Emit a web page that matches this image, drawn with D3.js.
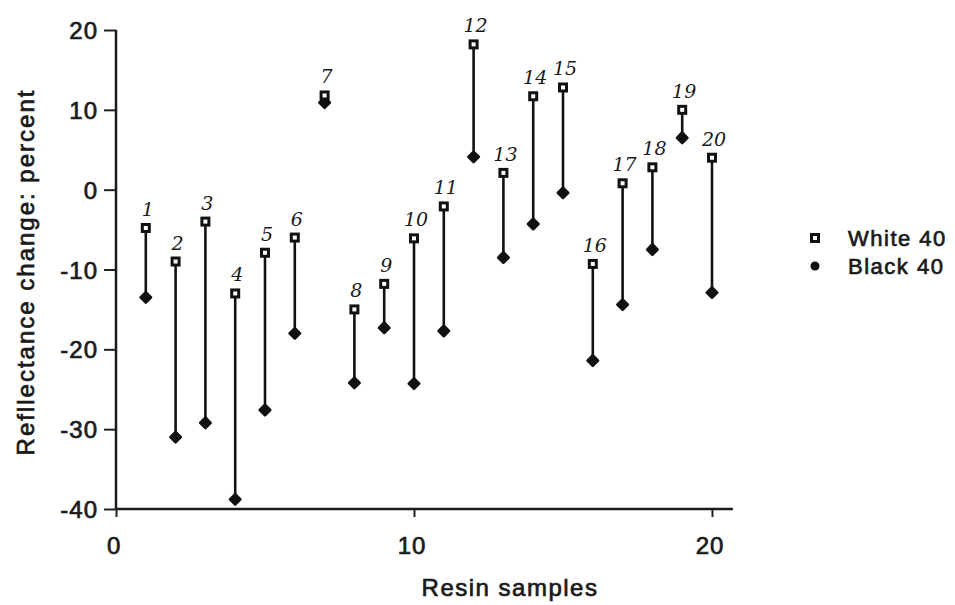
<!DOCTYPE html>
<html>
<head>
<meta charset="utf-8">
<script src="https://cdn.jsdelivr.net/npm/d3@7"></script>
<style>
  body { margin: 0; background: #fff; }
  svg text { font-family: "Liberation Sans", Arial, sans-serif; fill: #1a1a1a; }
</style>
</head>
<body>
<div id="chart"></div>
<script>
// Resin samples 1..20, reflectance change (percent)
const samples = d3.range(1, 21);
const white40 = [-4.8, -9.0, -4.0, -13.0, -7.9, -6.0, 11.8, -15.0, -11.8, -6.1,
                 -2.1, 18.2, 2.1, 11.7, 12.8, -9.3, 0.8, 2.8, 10.0, 4.0];
const black40 = [-13.5, -31.0, -29.2, -38.8, -27.6, -18.0, 10.9, -24.2, -17.3, -24.3,
                 -17.7, 4.1, -8.5, -4.3, -0.4, -21.4, -14.4, -7.5, 6.5, -12.9];
const xTicks = [0, 10, 20];
const yTicks = [-40, -30, -20, -10, 0, 10, 20];
const legendItems = [
    { key: 'white', label: 'White 40' },
    { key: 'black', label: 'Black 40' }
];

const width = 955, height = 605;
const svg = d3.select('#chart').append('svg')
    .attr('width', width)
    .attr('height', height);

const x = d3.scaleLinear().domain([0, 20]).range([116, 712]);
const y = d3.scaleLinear().domain([-40, 20]).range([509, 30]);

// plain hyphen for negatives, like the original
const fmt = d => String(d);

const heavyText = sel => sel
    .style('stroke', '#1a1a1a')
    .style('stroke-width', '0.7px');

const tickFont = g => g.selectAll('text')
    .style('font-size', '24px')
    .style('letter-spacing', '1px')
    .call(heavyText);

// y axis
const yAxis = svg.append('g')
    .attr('transform', `translate(${x(0)},0)`)
    .call(d3.axisLeft(y).tickValues(yTicks).tickFormat(fmt).tickSize(12).tickSizeOuter(0).tickPadding(6));
yAxis.select('.domain').remove();
yAxis.selectAll('.tick line').attr('stroke', '#222').attr('stroke-width', 2);
yAxis.call(tickFont);
yAxis.selectAll('text').attr('dy', '0.36em');

// x axis
const xAxis = svg.append('g')
    .attr('transform', `translate(0,${y(-40)})`)
    .call(d3.axisBottom(x).tickValues(xTicks).tickFormat(fmt).tickSize(8).tickSizeOuter(0).tickPadding(20));
xAxis.select('.domain').remove();
xAxis.selectAll('.tick line').attr('stroke', '#222').attr('stroke-width', 2);
xAxis.call(tickFont);
xAxis.selectAll('.tick text').attr('dx', '-0.1em');

// axis lines
svg.append('line')
    .attr('x1', x(0)).attr('x2', x(0))
    .attr('y1', y(20)).attr('y2', y(-40))
    .attr('stroke', '#1a1a1a').attr('stroke-width', 2.5);
svg.append('line')
    .attr('x1', x(0)).attr('x2', x(20.7))
    .attr('y1', y(-40)).attr('y2', y(-40))
    .attr('stroke', '#1a1a1a').attr('stroke-width', 2.5);

// axis titles
svg.append('text')
    .attr('transform', 'translate(34,272) rotate(-90)')
    .attr('text-anchor', 'middle')
    .style('font-size', '24px')
    .style('letter-spacing', '2px')
    .call(heavyText)
    .text('Refllectance change: percent');

svg.append('text')
    .attr('x', 510)
    .attr('y', 596)
    .attr('text-anchor', 'middle')
    .style('font-size', '24px')
    .style('letter-spacing', '1.5px')
    .call(heavyText)
    .text('Resin samples');

// droplines between the two series
const rows = samples.map((s, i) => ({ s, w: white40[i], b: black40[i] }));

svg.append('g').selectAll('line')
    .data(rows)
    .join('line')
    .attr('x1', d => x(d.s)).attr('x2', d => x(d.s))
    .attr('y1', d => y(d.w)).attr('y2', d => y(d.b))
    .attr('stroke', '#111')
    .attr('stroke-width', 2.6);

const blackSym = d3.symbol().type(d3.symbolSquare).size(56);

function drawBlack(sel) {
    sel.append('path')
        .attr('d', blackSym())
        .attr('transform', 'rotate(45)')
        .attr('fill', '#111')
        .attr('stroke', '#111')
        .attr('stroke-width', 2.5)
        .attr('stroke-linejoin', 'round');
}
function drawWhite(sel) {
    sel.append('rect')
        .attr('x', -3.5).attr('y', -3.5)
        .attr('width', 7).attr('height', 7)
        .attr('fill', '#fff')
        .attr('stroke', '#111')
        .attr('stroke-width', 3);
}

svg.append('g').selectAll('g')
    .data(rows)
    .join('g')
    .attr('transform', d => `translate(${x(d.s)},${y(d.b)})`)
    .call(drawBlack);

svg.append('g').selectAll('g')
    .data(rows)
    .join('g')
    .attr('transform', d => `translate(${x(d.s)},${y(d.w)})`)
    .call(drawWhite);

// handwritten sample numbers
svg.append('g').selectAll('text')
    .data(rows)
    .join('text')
    .attr('x', d => x(d.s) + 2)
    .attr('y', d => y(d.w) - 12)
    .attr('text-anchor', 'middle')
    .style('font-family', '"DejaVu Serif", serif')
    .style('font-style', 'italic')
    .style('font-size', '19px')
    .text(d => d.s);

// legend
const legend = svg.append('g').attr('transform', 'translate(815,238)');
legendItems.forEach((li, i) => {
    const row = legend.append('g').attr('transform', `translate(0,${i * 28})`);
    if (li.key === 'white') row.call(drawWhite);
    else row.append('circle').attr('r', 4.5).attr('fill', '#111');
    row.append('text')
        .attr('x', 33)
        .attr('dy', '0.36em')
        .style('font-size', '22px')
        .style('letter-spacing', '1.5px')
        .call(heavyText)
        .text(li.label);
});
</script>
</body>
</html>
